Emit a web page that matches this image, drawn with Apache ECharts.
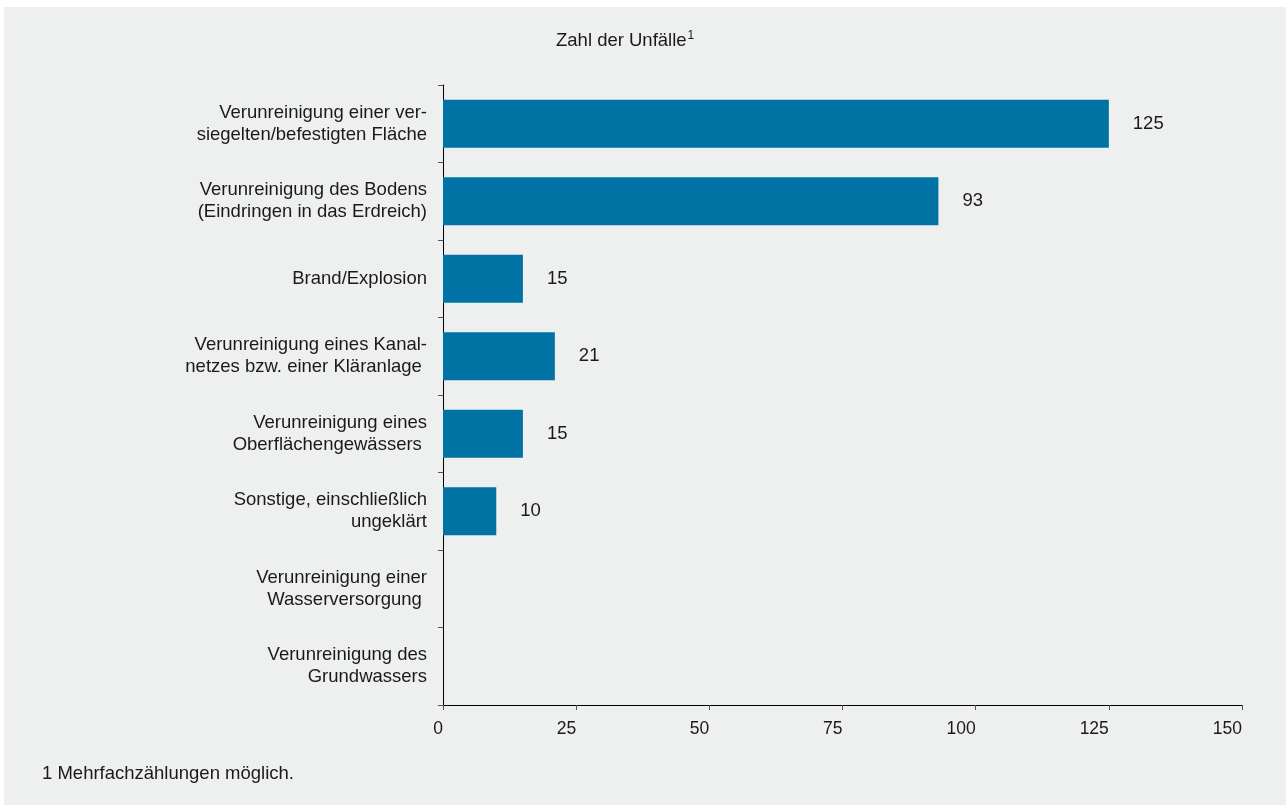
<!DOCTYPE html>
<html>
<head>
<meta charset="utf-8">
<script src="https://cdn.jsdelivr.net/npm/echarts@6/dist/echarts.min.js"></script>
<style>
html,body{margin:0;padding:0;background:#ffffff;}
#chart{position:absolute;left:4px;top:7px;width:1282px;height:798px;background:#eeefef;}
</style>
</head>
<body>
<div id="chart"></div>
<script>
const categories = [
  "Verunreinigung einer ver-\nsiegelten/befestigten Fläche",
  "Verunreinigung des Bodens\n(Eindringen in das Erdreich)",
  "Brand/Explosion",
  "Verunreinigung eines Kanal-\nnetzes bzw. einer Kläranlage ",
  "Verunreinigung eines\nOberflächengewässers ",
  "Sonstige, einschließlich\nungeklärt",
  "Verunreinigung einer\nWasserversorgung ",
  "Verunreinigung des\nGrundwassers"
];
const values = [125, 93, 15, 21, 15, 10, 0, 0];
const xTicks = [0, 25, 50, 75, 100, 125, 150];

const chart = echarts.init(document.getElementById('chart'));
const font = "'Liberation Sans', Arial, Helvetica, sans-serif";
chart.setOption({
  backgroundColor: '#eeefef',
  animation: false,
  title: {
    text: '{a|Zahl der Unfälle}{s|1}',
    left: 547, top: 18,
    textStyle: {
      fontWeight: 'normal',
      rich: {
        a: {fontFamily: font, fontSize: 18.5, fontWeight: 'normal', color: '#1a1a1a', verticalAlign: 'bottom'},
        s: {fontFamily: font, fontSize: 12, fontWeight: 'normal', color: '#1a1a1a', verticalAlign: 'top', padding: [0,0,8,1]}
      }
    }
  },
  graphic: [{
    type: 'text', left: 38, top: 757,
    style: {text: '1 Mehrfachzählungen möglich.', font: "18.5px 'Liberation Sans', Arial, sans-serif", fill: '#1a1a1a'}
  }],
  grid: {left: 439, right: 44, top: 78, bottom: 100, containLabel: false},
  xAxis: {
    type: 'value', min: xTicks[0], max: xTicks[xTicks.length-1], interval: 25,
    axisLine: {show: true, lineStyle: {color: '#000', width: 1}},
    axisTick: {show: true, length: 5, lineStyle: {color: '#555'}},
    splitLine: {show: false},
    axisLabel: {fontFamily: font, fontSize: 17.5, color: '#1a1a1a', margin: 15, align: 'right'}
  },
  yAxis: {
    type: 'category', data: categories, inverse: true,
    axisLine: {show: true, lineStyle: {color: '#000', width: 1}},
    axisTick: {show: true, length: 5, lineStyle: {color: '#555'}},
    axisLabel: {fontFamily: font, fontSize: 18.5, color: '#1a1a1a', margin: 16, lineHeight: 22, align: 'right', padding: [3, 0, 0, 0]}
  },
  series: [{
    type: 'bar', data: values, barCategoryGap: '38%',
    itemStyle: {color: '#0072a4', borderWidth: 0},
    label: {
      show: true, position: 'right', distance: 24,
      fontFamily: font, fontSize: 18.5, color: '#1a1a1a',
      formatter: p => p.value > 0 ? String(p.value) : ''
    }
  }]
});
</script>
</body>
</html>
